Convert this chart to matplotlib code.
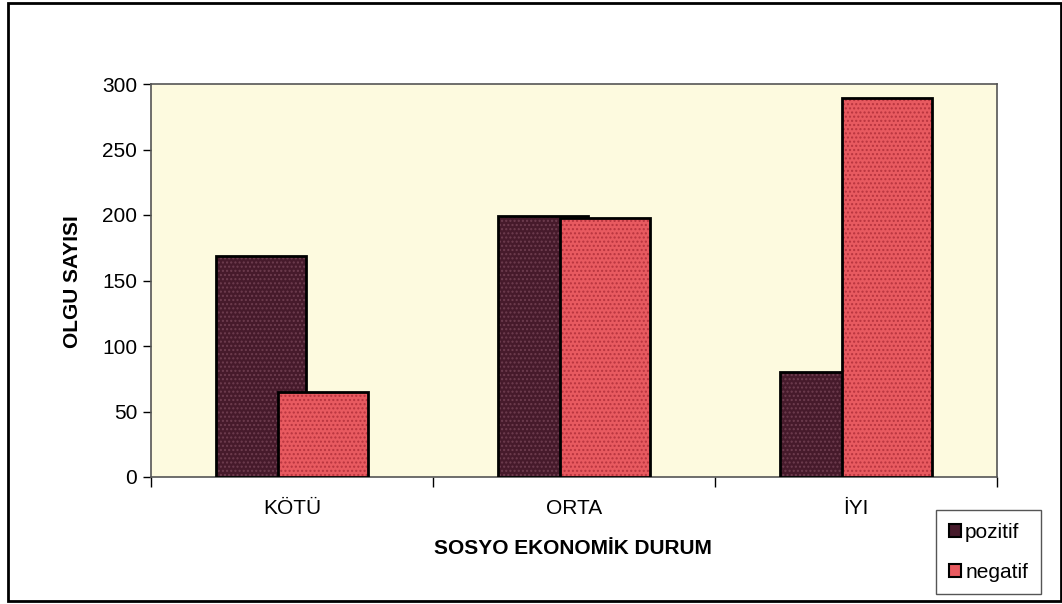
import matplotlib.pyplot as plt
from matplotlib.patches import Patch, Rectangle

# olgu sayilari, sosyo ekonomik duruma gore
categories = ['KÖTÜ', 'ORTA', 'İYI']
pozitif = [169, 199, 80]
negatif = [65, 198, 289]
yticks = [0, 50, 100, 150, 200, 250, 300]

plt.rcParams['font.family'] = ['Liberation Sans', 'DejaVu Sans']

fig = plt.figure(figsize=(10.62, 6.04), dpi=100)
ax = fig.add_axes([151 / 1062, 1 - 477 / 604, 846 / 1062, 393 / 604])
ax.set_facecolor('#fdfadf')

x = list(range(len(categories)))
w = 0.32
off = 0.11
xp = [i - off for i in x]
xn = [i + off for i in x]

# each series: flat fill, speckle hatch, then black outline
ax.bar(xp, pozitif, w, color='#461a2b', linewidth=0, zorder=2)
ax.bar(xp, pozitif, w, color='none', edgecolor='#6e3d4f', hatch='....',
       linewidth=0, zorder=3)
ax.bar(xp, pozitif, w, color='none', edgecolor='black', linewidth=2, zorder=4)
ax.bar(xn, negatif, w, color='#e85a60', linewidth=0, zorder=5)
ax.bar(xn, negatif, w, color='none', edgecolor='#b8343e', hatch='....',
       linewidth=0, zorder=6)
ax.bar(xn, negatif, w, color='none', edgecolor='black', linewidth=2, zorder=7)

ax.set_xlim(-0.5, 2.5)
ax.set_ylim(0, 300)
ax.set_yticks(yticks)
ax.set_xticks(x)
ax.set_xticklabels(categories)
ax.set_xticks([-0.5, 0.5, 1.5, 2.5], minor=True)
ax.tick_params(axis='x', which='major', length=0, pad=16, labelsize=15)
ax.tick_params(axis='x', which='minor', length=7, direction='out', width=1)
ax.tick_params(axis='y', length=6, direction='out', width=1, pad=4, labelsize=15)
for s in ax.spines.values():
    s.set_color('#555555')
    s.set_linewidth(1.2)

fig.text(72 / 1062, 1 - 282 / 604, 'OLGU SAYISI', rotation=90, fontsize=15,
         fontweight='bold', ha='center', va='center')
fig.text(573 / 1062, 1 - 548 / 604, 'SOSYO EKONOMİK DURUM', fontsize=15,
         fontweight='bold', ha='center', va='center')

handles = [Patch(facecolor='#461a2b', edgecolor='black', linewidth=1.5),
           Patch(facecolor='#e85a60', edgecolor='black', linewidth=1.5)]
leg = fig.legend(handles, ['pozitif', 'negatif'], loc='lower left',
                 bbox_to_anchor=(936 / 1062, 10 / 604), borderaxespad=0,
                 fontsize=15, fancybox=False, framealpha=1, edgecolor='#555555',
                 handlelength=0.6, handleheight=0.6, handletextpad=0.2,
                 labelspacing=1.0, borderpad=0.6)
leg.get_frame().set_linewidth(1)

# outer frame round the whole chart
fig.patches.append(Rectangle((8 / 1062, 3 / 604), 1053 / 1062, 598 / 604,
                             transform=fig.transFigure, fill=False,
                             edgecolor='black', linewidth=2))

fig.savefig('out.png', dpi=100)
